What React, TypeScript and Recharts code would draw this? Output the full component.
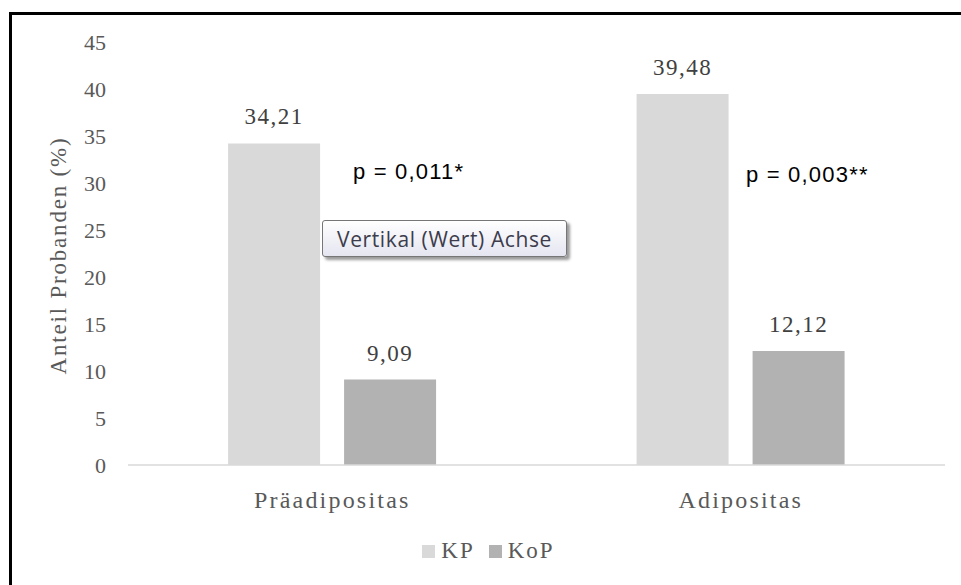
import { Bar, BarChart, LabelList, Legend, XAxis, YAxis } from "recharts";

const categories = ["Präadipositas", "Adipositas"];
const kpValues = [34.21, 39.48];
const kopValues = [9.09, 12.12];
const yTicks = [0, 5, 10, 15, 20, 25, 30, 35, 40, 45];
const pLabels = ["p = 0,011*", "p = 0,003**"];
const seriesNames = ["KP", "KoP"];
const seriesColors = ["#d9d9d9", "#b2b2b2"];

const data = categories.map((name, i) => ({
  name,
  KP: kpValues[i],
  KoP: kopValues[i],
}));

const serif = "'Liberation Serif', 'Times New Roman', serif";
const sans = "'Liberation Sans', Arial, sans-serif";

const fmt = (v: number) => v.toFixed(2).replace(".", ",");

function YLabel({ viewBox }: { viewBox?: { x: number; y: number; width: number; height: number } }) {
  if (!viewBox) return null;
  const cx = viewBox.x + 58;
  const cy = viewBox.y + viewBox.height / 2 + 2;
  return (
    <text
      x={cx}
      y={cy}
      transform={`rotate(-90 ${cx} ${cy})`}
      textAnchor="middle"
      dominantBaseline="central"
      fontFamily={serif}
      fontSize={23}
      letterSpacing={1.8}
      fill="#595959"
    >
      Anteil Probanden (%)
    </text>
  );
}

function LegendBox() {
  return (
    <div
      style={{
        height: 20,
        display: "flex",
        justifyContent: "center",
        alignItems: "center",
        paddingLeft: 30,
        fontFamily: serif,
        fontSize: 23,
        color: "#595959",
      }}
    >
      {seriesNames.map((n, i) => (
        <span key={n} style={{ display: "inline-flex", alignItems: "center", marginRight: 14 }}>
          <span style={{ width: 13, height: 13, background: seriesColors[i], marginRight: 6 }} />
          <span style={{ letterSpacing: 2 }}>{n}</span>
        </span>
      ))}
    </div>
  );
}

export default function App() {
  return (
    <div style={{ position: "absolute", left: 0, top: 0, width: 961, height: 585, background: "#fff" }}>
      <BarChart
        width={961}
        height={585}
        data={data}
        margin={{ top: 42, right: 16, left: 0, bottom: 24 }}
        barCategoryGap="24.5%"
        barGap={24}
      >
        <XAxis
          dataKey="name"
          height={76}
          stroke="#d9d9d9"
          strokeWidth={1.5}
          tickLine={false}
          tickMargin={20}
          tick={{ fill: "#595959", fontFamily: serif, fontSize: 24, letterSpacing: 2.2 }}
        />
        <YAxis
          width={128}
          domain={[0, 45]}
          ticks={yTicks}
          axisLine={false}
          tickLine={false}
          tickMargin={16}
          tick={{ fill: "#595959", fontFamily: serif, fontSize: 22 }}
          label={<YLabel />}
        />
        <Legend verticalAlign="bottom" wrapperStyle={{ left: 0, width: 961 }} content={<LegendBox />} />
        {seriesNames.map((n, i) => (
          <Bar key={n} dataKey={n} fill={seriesColors[i]} isAnimationActive={false}>
            <LabelList
              dataKey={n}
              position="top"
              offset={19}
              formatter={(v: number) => fmt(v)}
              style={{ fill: "#404040", fontFamily: serif, fontSize: 23, letterSpacing: 1.5 }}
            />
          </Bar>
        ))}
      </BarChart>
      <svg
        width={961}
        height={585}
        style={{ position: "absolute", left: 0, top: 0, pointerEvents: "none" }}
      >
        <rect x={9} y={12} width={952} height={3} fill="#000" />
        <rect x={9} y={12} width={3} height={573} fill="#000" />
        <text x={353} y={179} fontFamily={sans} fontSize={22} letterSpacing={1.2} fill="#000">
          {pLabels[0]}
        </text>
        <text x={746} y={182} fontFamily={sans} fontSize={22} letterSpacing={1.2} fill="#000">
          {pLabels[1]}
        </text>
      </svg>
      <div
        style={{
          position: "absolute",
          left: 322,
          top: 220,
          width: 245,
          height: 37,
          boxSizing: "border-box",
          border: "1px solid #767676",
          borderRadius: 3,
          background: "linear-gradient(#ffffff, #e4e5f0)",
          boxShadow: "3px 3px 3px rgba(0,0,0,0.4)",
          fontFamily: "'Open Sans', sans-serif",
          fontSize: 21,
          letterSpacing: 0.6,
          color: "#3c3c4c",
          display: "flex",
          alignItems: "center",
          justifyContent: "center",
        }}
      >
        Vertikal (Wert) Achse
      </div>
    </div>
  );
}
